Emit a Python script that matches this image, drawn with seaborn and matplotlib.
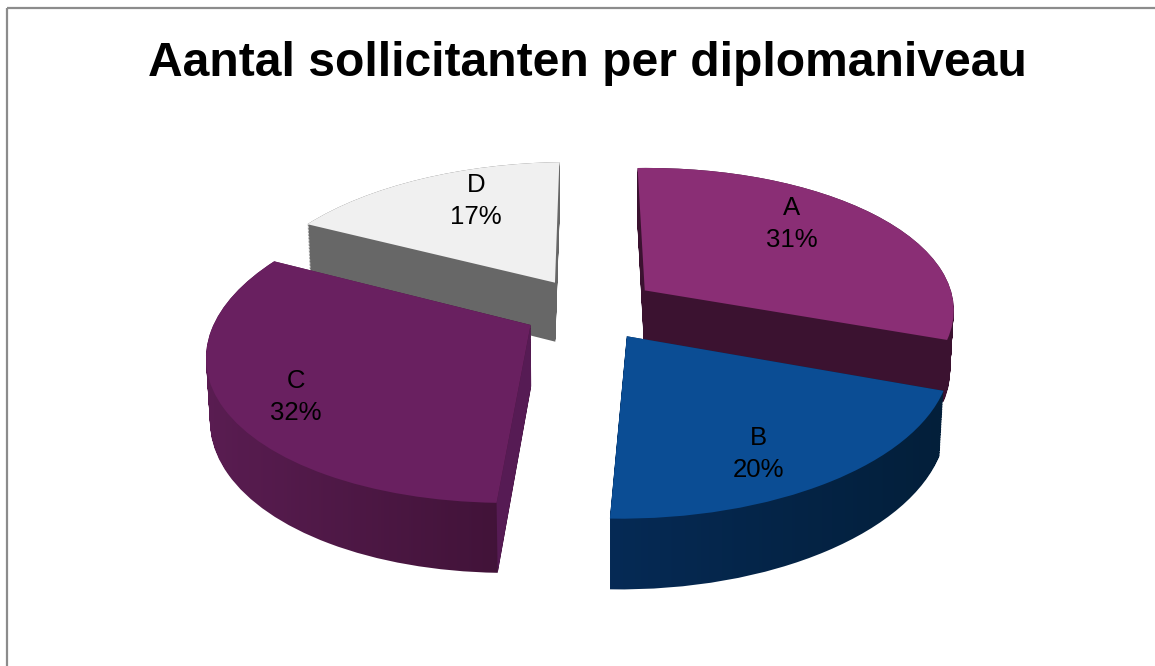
import matplotlib
matplotlib.use("Agg")
import matplotlib.pyplot as plt
import matplotlib.transforms as mtransforms
import numpy as np
import seaborn as sns
from matplotlib.patches import PathPatch, Rectangle
from matplotlib.path import Path

# waarden uit de figuur
categorieen = ["A", "B", "C", "D"]
percentages = [31, 20, 32, 17]
titel = "Aantal sollicitanten per diplomaniveau"

kleur_boven = ["#8a2e75", "#0b4d94", "#692060", "#f0f0f0"]
kleur_zijkant = ["#3b1230", "#062a55", "#5a1d52", "#676767"]
kleur_zijkant2 = ["#3b1230", "#031f3a", "#3f1236", "#676767"]
kleur_snijvlak = "#561b54"

sns.set_theme(style="white")
plt.rcParams["font.family"] = ["Liberation Sans", "DejaVu Sans"]

# camera voor het 3D effect
CX, CY, RX, RY = 589, 309, 312, 146
DIEPTE, K, KZ, SCHEEF = 61, 0.15, 0.01, 0.035


class Perspectief(mtransforms.Transform):
    input_dims = 2
    output_dims = 2
    has_inverse = False

    def __init__(self, z=0.0):
        super().__init__()
        self.z = z

    def transform_non_affine(self, values):
        values = np.asarray(values, dtype=float)
        w = 1 + K * values[:, 1] + KZ * self.z
        sx = CX + RX * (values[:, 0] + SCHEEF * values[:, 1]) / w
        sy = CY - (RY * values[:, 1] - DIEPTE * self.z) / w
        return np.column_stack([sx, sy])


fig = plt.figure(figsize=(11.55, 6.66), dpi=100)
ax = fig.add_axes([0, 0, 1, 1])

wedges, _ = ax.pie(
    percentages,
    startangle=92,
    counterclock=False,
    explode=[0.22, 0.22, 0.21, 0.22],
    colors=kleur_boven,
    radius=1,
)
ax.set_aspect("auto")
ax.set_xlim(0, 1155)
ax.set_ylim(666, 0)

lagen = np.linspace(0, 1, 40)
volgorde = [3, 0, 2, 1]  # achter naar voor

for rang, i in enumerate(volgorde):
    w = wedges[i]
    z0 = 10 + rang * 3
    pad = w.get_path()
    delen = [Perspectief(z).transform_path(pad) for z in lagen]
    romp = Path.make_compound_path(*delen)

    if kleur_zijkant[i] == kleur_zijkant2[i]:
        ax.add_patch(PathPatch(romp, fc=kleur_zijkant[i], ec="none", zorder=z0))
    else:
        x0, x1 = romp.vertices[:, 0].min(), romp.vertices[:, 0].max()
        verloop = np.linspace(0, 1, 256)[None, :]
        cmap = sns.blend_palette([kleur_zijkant[i], kleur_zijkant2[i]], as_cmap=True)
        beeld = ax.imshow(
            verloop,
            extent=(x0, x1, 666, 0),
            aspect="auto",
            cmap=cmap,
            zorder=z0,
        )
        beeld.set_clip_path(romp, transform=ax.transData)

    # snijvlak aan de voorkant van C
    if categorieen[i] == "C":
        hoek = np.deg2rad(w.theta2)
        midden = np.array(w.center)
        rand = midden + w.r * np.array([np.cos(hoek), np.sin(hoek)])
        vlak = np.vstack(
            [
                Perspectief(0).transform(np.array([midden, rand])),
                Perspectief(1).transform(np.array([rand, midden])),
            ]
        )
        ax.fill(vlak[:, 0], vlak[:, 1], color=kleur_snijvlak, lw=0, zorder=z0 + 1)

    w.set_transform(Perspectief(0) + ax.transData)
    w.set_zorder(z0 + 2)
    w.set_edgecolor("none")

ax.set_xlim(0, 1155)
ax.set_ylim(666, 0)

# labels
label_plek = {"A": (792, 224), "B": (758, 454), "C": (296, 397), "D": (476, 201)}
for cat, pct in zip(categorieen, percentages):
    x, y = label_plek[cat]
    ax.text(
        x, y, f"{cat}\n{pct}%",
        ha="center", va="center", fontsize=18.5, color="black",
        linespacing=1.37, zorder=40,
    )

ax.text(
    587, 63, titel,
    ha="center", va="center", fontsize=34.6, fontweight="bold", color="black", zorder=40,
)

# kader
ax.add_patch(Rectangle((7, 8), 1400, 900, fill=False, ec="#8c8c8c", lw=1.6, zorder=50))

ax.axis("off")
fig.savefig("out.png", dpi=100, facecolor="white")
